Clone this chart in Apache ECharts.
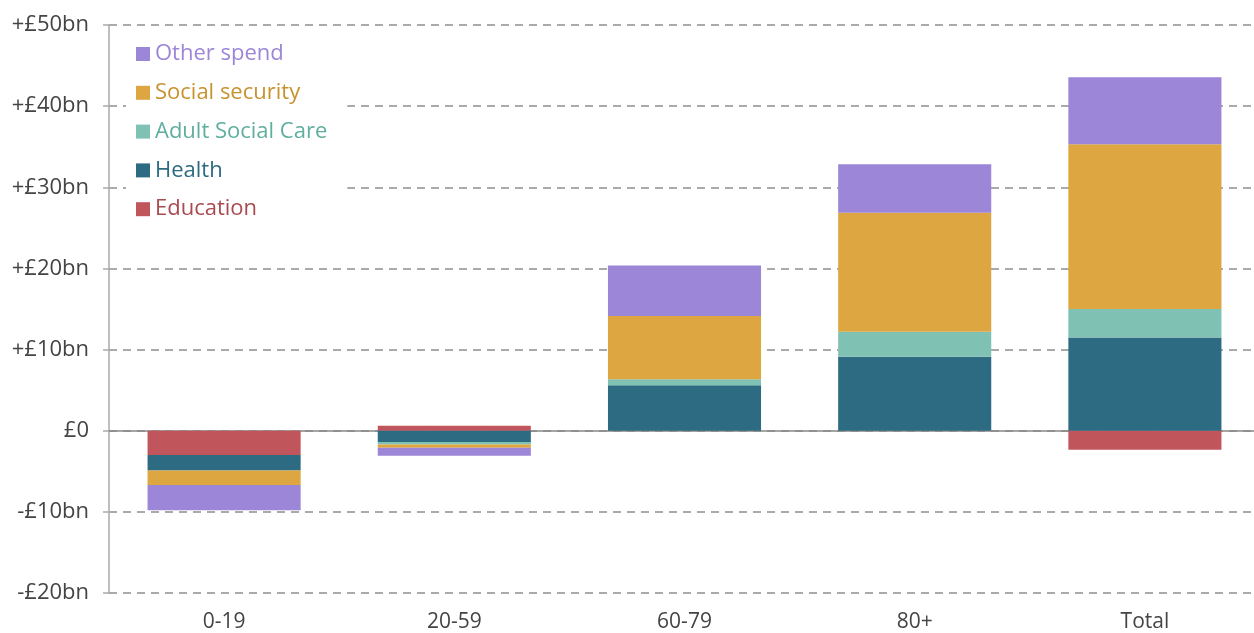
<!DOCTYPE html>
<html>
<head>
<meta charset="utf-8">
<script src="https://cdn.jsdelivr.net/npm/echarts@6/dist/echarts.min.js"></script>
<style>
  html, body { margin: 0; padding: 0; background: #fff; overflow: hidden; }
  #chart { width: 1260px; height: 633px; }
</style>
</head>
<body>
<div id="chart"></div>
<script>
// categories and values (£bn)
var categories = ['0-19', '20-59', '60-79', '80+', 'Total'];
var education = [-3.0, 0.6, 0, 0, -2.35];
var health = [-1.9, -1.4, 5.6, 9.1, 11.5];
var adultSocialCare = [0, -0.3, 0.75, 3.1, 3.5];
var socialSecurity = [-1.8, -0.4, 7.8, 14.65, 20.3];
var otherSpend = [-3.1, -1.0, 6.2, 6.0, 8.25];

var chart = echarts.init(document.getElementById('chart'));

function bar(name, data, color) {
  return {
    name: name,
    type: 'bar',
    stack: 'spend',
    barWidth: '66.5%',
    data: data,
    itemStyle: { color: color }
  };
}

var option = {
  animation: false,
  textStyle: { fontFamily: 'Open Sans' },
  // chart is 6px wider than the window so the last category runs off the edge like the original
  grid: { left: 109, right: 0, top: 25, bottom: 40 },
  legend: {
    orient: 'vertical',
    left: 126,
    top: 39,
    padding: [4, 20, 4, 10],
    backgroundColor: '#fff',
    itemWidth: 14,
    itemHeight: 14,
    itemGap: 16.8,
    icon: 'rect',
    textStyle: { fontSize: 22 },
    data: [
      { name: 'Other spend', textStyle: { color: '#9b86d7' } },
      { name: 'Social security', textStyle: { color: '#c8922e' } },
      { name: 'Adult Social Care', textStyle: { color: '#5fae9e' } },
      { name: 'Health', textStyle: { color: '#2d6b82' } },
      { name: 'Education', textStyle: { color: '#a84a50' } }
    ]
  },
  xAxis: {
    type: 'category',
    data: categories,
    axisLine: { lineStyle: { color: '#888', width: 1.5 } },
    axisTick: { show: false },
    axisLabel: { color: '#444', fontSize: 21, margin: 19 }
  },
  yAxis: {
    type: 'value',
    min: -20,
    max: 50,
    interval: 10,
    axisLine: { show: true, lineStyle: { color: '#aaa', width: 1.5 } },
    axisTick: { show: true, length: 6, lineStyle: { color: '#aaa', width: 1.5 } },
    axisLabel: {
      color: '#444',
      fontSize: 22,
      margin: 20,
      formatter: function (v) {
        if (v === 0) return '£0';
        return (v > 0 ? '+£' : '-£') + Math.abs(v) + 'bn';
      }
    },
    splitLine: { lineStyle: { color: '#aaa', type: [8, 6], width: 2 } }
  },
  series: [
    bar('Education', education, '#c0555c'),
    bar('Health', health, '#2d6b82'),
    bar('Adult Social Care', adultSocialCare, '#7fc2b4'),
    bar('Social security', socialSecurity, '#dea641'),
    bar('Other spend', otherSpend, '#9b86d7')
  ]
};

chart.setOption(option);
</script>
</body>
</html>
